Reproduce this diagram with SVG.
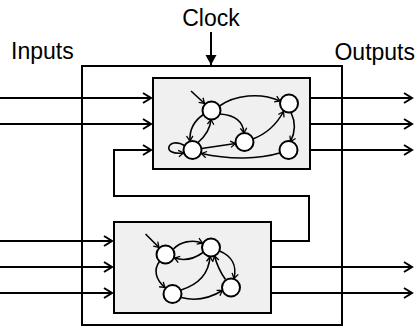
<svg xmlns="http://www.w3.org/2000/svg" width="416" height="327" viewBox="0 0 416 327">
  <defs>
    <marker id="open" markerUnits="userSpaceOnUse" markerWidth="14" markerHeight="14" viewBox="-10 -7 12 14" refX="0" refY="0" orient="auto">
      <path d="M -8 -5 L 0 0 L -8 5" fill="none" stroke="#000" stroke-width="2"/>
    </marker>
    <marker id="small" markerUnits="userSpaceOnUse" markerWidth="10" markerHeight="10" viewBox="-7 -5 9 10" refX="0" refY="0" orient="auto">
      <path d="M -5 -3.2 L 0 0 L -5 3.2" fill="none" stroke="#000" stroke-width="1.3"/>
    </marker>
    <marker id="solid" markerUnits="userSpaceOnUse" markerWidth="14" markerHeight="14" viewBox="-11 -7 12 14" refX="0" refY="0" orient="auto">
      <path d="M -10 -5.5 L 0 0 L -10 5.5 Z" fill="#000"/>
    </marker>
  </defs>
  <style>
    .lbl { font-family: "Liberation Sans", Arial, sans-serif; font-size: 23px; fill: #000; }
    .line { fill: none; stroke: #000; stroke-width: 2; }
    .arr { fill: none; stroke: #000; stroke-width: 2; marker-end: url(#open); }
    .box { fill: #f0f0f0; stroke: #000; stroke-width: 2; }
    .st { fill: #fff; stroke: #000; stroke-width: 2; }
    .e { fill: none; stroke: #000; stroke-width: 1.6; marker-end: url(#small); }
  </style>

  <g id="labels">
    <text class="lbl" x="211" y="26" text-anchor="middle">Clock</text>
    <text class="lbl" x="11" y="59">Inputs</text>
    <text class="lbl" x="415" y="60" text-anchor="end">Outputs</text>
  </g>

  <g id="outer">
    <rect x="82" y="66" width="260" height="259" fill="none" stroke="#000" stroke-width="2"/>
  </g>

  <g id="connectors">
    <line x1="211" y1="32" x2="211" y2="65" stroke="#000" stroke-width="2" marker-end="url(#solid)"/>
    <line class="arr" x1="0" y1="98" x2="151" y2="98"/>
    <line class="arr" x1="0" y1="124" x2="151" y2="124"/>
    <polyline class="arr" points="271,241 309,241 309,196 114,196 114,150 151,150"/>
    <line class="arr" x1="310" y1="98" x2="412" y2="98"/>
    <line class="arr" x1="310" y1="124" x2="412" y2="124"/>
    <line class="arr" x1="310" y1="150" x2="412" y2="150"/>
    <line class="arr" x1="0" y1="241" x2="112" y2="241"/>
    <line class="arr" x1="0" y1="267" x2="112" y2="267"/>
    <line class="arr" x1="0" y1="293" x2="112" y2="293"/>
    <line class="arr" x1="271" y1="267" x2="412" y2="267"/>
    <line class="arr" x1="271" y1="293" x2="412" y2="293"/>
  </g>

  <g id="machine-top">
    <rect class="box" x="153" y="78" width="157" height="91"/>
    <g id="top-edges">
      <path class="e" d="M 191 91 L 204.5 103.5"/>
      <path class="e" d="M 219.5 106 C 235 95, 260 92, 280 101"/>
      <path class="e" d="M 220 114 C 235 115, 243 122, 244 133"/>
      <path class="e" d="M 253 139 C 268 133, 278 122, 283.5 111.5"/>
      <path class="e" d="M 291 112.5 Q 298 127 290.5 141.5"/>
      <path class="e" d="M 279.5 153 C 260 159, 230 160, 201.5 153.5"/>
      <path class="e" d="M 201.5 148.5 Q 218 146 235.5 143.5"/>
      <path class="e" d="M 198 142.5 Q 210 132 211 119.5"/>
      <path class="e" d="M 203.5 114.5 Q 189 124 190 141"/>
      <path class="e" d="M 184.5 145.5 C 168 136, 160 156, 183.5 153"/>
    </g>
    <circle class="st" cx="211.5" cy="110.5" r="9"/>
    <circle class="st" cx="192.5" cy="150" r="9"/>
    <circle class="st" cx="244.5" cy="142" r="9"/>
    <circle class="st" cx="289" cy="103.5" r="9"/>
    <circle class="st" cx="288.5" cy="150" r="9"/>
  </g>

  <g id="machine-bottom">
    <rect class="box" x="114" y="222" width="157" height="91"/>
    <g id="bottom-edges">
      <path class="e" d="M 145.5 234 L 159 247.5"/>
      <path class="e" d="M 173.5 249 C 180 242, 192 239, 202.5 243"/>
      <path class="e" d="M 203 252.5 C 194 259, 184 261, 174.5 258"/>
      <path class="e" d="M 159.5 261.5 C 153 270, 156 280, 165 287.5"/>
      <path class="e" d="M 181 290 C 200 284, 209 272, 210 256.5"/>
      <path class="e" d="M 181.5 297.5 Q 202 303 222.5 290.5"/>
      <path class="e" d="M 219.5 251 C 232 256, 237 266, 234 278.5"/>
      <path class="e" d="M 225.5 279.5 Q 218 269 214.5 256"/>
    </g>
    <circle class="st" cx="165.5" cy="254.5" r="9"/>
    <circle class="st" cx="211" cy="247.5" r="9"/>
    <circle class="st" cx="172.5" cy="294" r="9"/>
    <circle class="st" cx="231" cy="287.5" r="9"/>
  </g>
</svg>
